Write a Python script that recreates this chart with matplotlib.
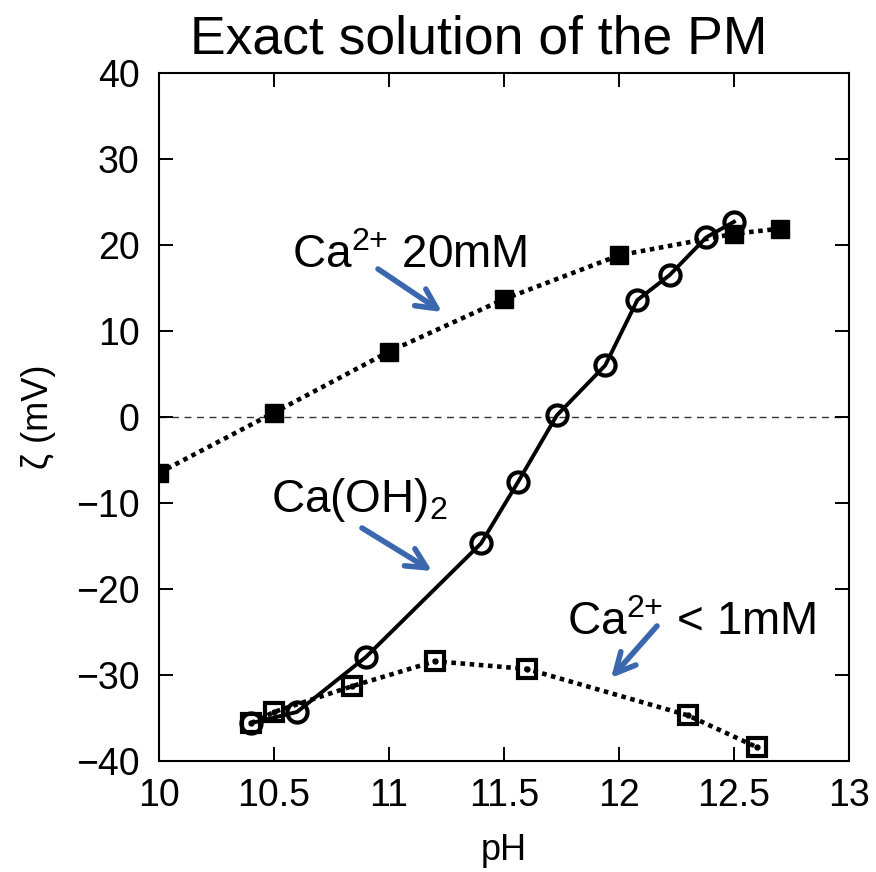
import matplotlib
matplotlib.use("Agg")
import matplotlib.pyplot as plt

plt.rcParams['font.family'] = ['Liberation Sans', 'DejaVu Sans']
plt.rcParams['mathtext.fontset'] = 'custom'
plt.rcParams['mathtext.rm'] = 'Liberation Sans'
plt.rcParams['mathtext.it'] = 'Liberation Sans:italic'
plt.rcParams['mathtext.default'] = 'regular'

# zeta potential vs pH for three solution conditions
ph_ca20 = [10.0, 10.5, 11.0, 11.5, 12.0, 12.5, 12.7]
zeta_ca20 = [-6.5, 0.5, 7.6, 13.7, 18.8, 21.3, 21.9]

ph_caoh2 = [10.4, 10.6, 10.9, 11.4, 11.56, 11.73, 11.94, 12.08, 12.22, 12.38, 12.5]
zeta_caoh2 = [-35.6, -34.3, -27.9, -14.7, -7.6, 0.2, 6.0, 13.6, 16.5, 20.9, 22.7]

ph_ca1 = [10.4, 10.5, 10.84, 11.2, 11.6, 12.3, 12.6]
zeta_ca1 = [-35.6, -34.3, -31.3, -28.4, -29.3, -34.7, -38.4]

x_ticks = [10, 10.5, 11, 11.5, 12, 12.5, 13]
x_tick_labels = ['10', '10.5', '11', '11.5', '12', '12.5', '13']
y_ticks = [-40, -30, -20, -10, 0, 10, 20, 30, 40]

fig = plt.figure(figsize=(8.76, 8.72), dpi=100)
ax = fig.add_axes([0.1815, 0.1273, 0.9692 - 0.1815, 0.9163 - 0.1273])

ax.axhline(0, color='#333333', lw=1.0, ls=(0, (5, 4)), zorder=1)

dot_style = (0, (1, 1))
ax.plot(ph_ca20, zeta_ca20, color='black', lw=3.3, ls=dot_style,
        marker='s', ms=13, mfc='black', mec='black', zorder=3)

ax.plot(ph_ca1, zeta_ca1, color='black', lw=3.3, ls=dot_style,
        marker='s', ms=13.5, mfc='none', mec='black', mew=3.0, zorder=3)
ax.plot(ph_ca1, zeta_ca1, ls='none', marker='o', ms=3.5,
        mfc='black', mec='black', zorder=4)

ax.plot(ph_caoh2, zeta_caoh2, color='black', lw=2.8, ls='-',
        marker='o', ms=14.5, mfc='none', mec='black', mew=3.0, zorder=3)

ax.set_xlim(10, 13)
ax.set_ylim(-40, 40)
ax.set_xticks(x_ticks)
ax.set_xticklabels(x_tick_labels)
ax.set_yticks(y_ticks)
ax.set_yticklabels([str(v).replace('-', '\u2212') for v in y_ticks])
ax.tick_params(direction='in', length=10, width=1.4, labelsize=27,
               top=True, right=True, pad=12)
ax.tick_params(axis='y', pad=14)
for s in ax.spines.values():
    s.set_linewidth(1.5)

ax.set_xlabel('pH', fontsize=26, labelpad=14)
ax.set_ylabel('\u03b6 (mV)', fontsize=26, labelpad=14)
fig.text(0.546, 0.939, 'Exact solution of the PM', fontsize=38.5,
         ha='center', va='baseline')

arrow_color = '#3a67ad'
arrow_kw = dict(arrowstyle='->', color=arrow_color, lw=4.0,
                mutation_scale=36, shrinkA=0, shrinkB=0)

def to_data(px, py):
    # figure pixel (from top-left) to data coordinates
    disp = fig.transFigure.transform((px / 876, 1 - py / 872))
    return ax.transData.inverted().transform(disp)

ax.annotate('', xy=to_data(442, 312), xytext=to_data(378, 269), arrowprops=arrow_kw)
ax.annotate('', xy=to_data(432, 571), xytext=to_data(362, 528), arrowprops=arrow_kw)
ax.annotate('', xy=to_data(611, 678), xytext=to_data(657, 626), arrowprops=arrow_kw)

ax.text(*to_data(292, 268), 'Ca$^{2{+}}$ 20mM', fontsize=33, ha='left', va='baseline')
ax.text(*to_data(271, 512), 'Ca(OH)$_{2}$', fontsize=33, ha='left', va='baseline')
ax.text(*to_data(567, 635), 'Ca$^{2{+}}$ < 1mM', fontsize=33, ha='left', va='baseline')

fig.savefig('out.png', dpi=100)
